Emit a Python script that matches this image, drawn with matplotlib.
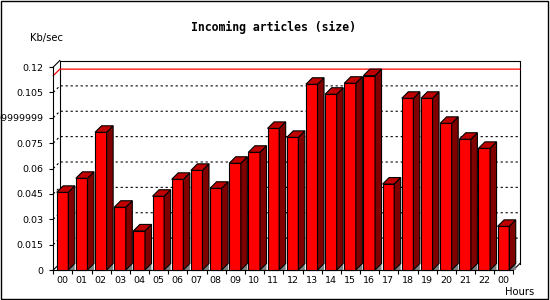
import matplotlib
matplotlib.use('Agg')
import matplotlib.pyplot as plt
from matplotlib.patches import Polygon, Rectangle

# data
hours = ['00', '01', '02', '03', '04', '05', '06', '07', '08', '09', '10', '11',
         '12', '13', '14', '15', '16', '17', '18', '19', '20', '21', '22', '00']
kb_sec = [0.0459, 0.0542, 0.0814, 0.0371, 0.0231, 0.0436, 0.0536, 0.0589,
          0.0483, 0.0631, 0.0696, 0.0837, 0.0784, 0.1098, 0.1039, 0.1104,
          0.1149, 0.0508, 0.1015, 0.1015, 0.0867, 0.0773, 0.0719, 0.0258]
y_ticks = [0, 0.015, 0.03, 0.045, 0.06, 0.075, 0.09, 0.105, 0.12]
y_tick_labels = ['0', '0.015', '0.03', '0.045', '0.06', '0.075',
                 '0.0899999999', '0.105', '0.12']
title = 'Incoming articles (size)'
y_title = 'Kb/sec'
x_title = 'Hours'

W, H = 550, 300
fig = plt.figure(figsize=(W / 100, H / 100), dpi=100)
fig.patch.set_facecolor('white')

# outer frame of the image
fig.add_artist(Rectangle((0.5 / W, 1.5 / H), 547 / W, 298 / H,
                         transform=fig.transFigure, fill=False,
                         ec='black', lw=1.0))

# front plane of the plot area (pixels: x 53..513, y 67..270)
ax_l, ax_r, ax_t, ax_b = 53.3, 513.4, 67, 270
ax = fig.add_axes([ax_l / W, 1 - ax_b / H, (ax_r - ax_l) / W, (ax_b - ax_t) / H])
n = len(kb_sec)
ax.set_xlim(0, n)
ax.set_ylim(0, 0.12)
ax.patch.set_visible(False)
for s in ['top', 'right']:
    ax.spines[s].set_visible(False)
for s in ['left', 'bottom']:
    ax.spines[s].set_linewidth(0.8)

# 3d depth, same number of pixels in x and y
depth_px = 6.5
dx = depth_px / ((ax_r - ax_l) / n)
dy = depth_px / ((ax_b - ax_t) / 0.12)

blk = dict(color='black', lw=0.8, clip_on=False, zorder=1)
# back wall and connecting edges
ax.plot([dx, dx, n + dx, n + dx], [dy, 0.12 + dy, 0.12 + dy, dy], **blk)
ax.plot([0, dx], [0.12, 0.12 + dy], **blk)
ax.plot([0, dx], [0, dy], **blk)
ax.plot([n, n + dx], [0, dy], **blk)

# dashed grid on the back wall
for v in y_ticks[1:-1]:
    ax.plot([0, dx, n + dx], [v, v + dy, v + dy], color='black', lw=0.8,
            ls=(0, (2, 2.5)), clip_on=False, zorder=1)

# max line
m = max(kb_sec)
ax.plot([0, dx, n + dx], [m, m + dy, m + dy], color='#ff0000', lw=0.9,
        clip_on=False, zorder=1.5)

# 3d bars
off, w = 0.177, 0.605
for i, v in enumerate(kb_sec):
    x0 = i + off
    x1 = x0 + w
    ax.add_patch(Polygon([(x1, 0), (x1 + dx, dy), (x1 + dx, 0)], closed=True,
                         fc='#808080', ec='none', zorder=2, clip_on=False))
    ax.add_patch(Rectangle((x0, 0), w, v, fc='#ff0000', ec='black', lw=0.8,
                           zorder=3, clip_on=False))
    ax.add_patch(Polygon([(x1, 0), (x1 + dx, dy), (x1 + dx, v + dy), (x1, v)],
                         closed=True, fc='#800000', ec='black', lw=0.8,
                         zorder=3, clip_on=False))
    ax.add_patch(Polygon([(x0, v), (x0 + dx, v + dy), (x1 + dx, v + dy), (x1, v)],
                         closed=True, fc='#c00000', ec='black', lw=0.8,
                         zorder=3, clip_on=False))

# ticks
ax.set_yticks(y_ticks)
ax.set_yticklabels(y_tick_labels, fontsize=6.8, family='DejaVu Sans')
ax.tick_params(axis='y', direction='out', length=2.6, width=0.8, pad=4.2)
ax.set_xticks(range(n + 1))
ax.set_xticklabels([])
ax.set_xticks([i + off + w / 2 for i in range(n)], minor=True)
ax.set_xticklabels(hours, minor=True, fontsize=6.8, family='DejaVu Sans')
ax.tick_params(axis='x', which='major', direction='out', length=2.6, width=0.8)
ax.tick_params(axis='x', which='minor', length=0, pad=4.5)

# texts
fig.text(273.7 / W, 1 - 27.5 / H, title, ha='center', va='center',
         family='DejaVu Sans Mono', weight='bold', fontsize=8.3)
fig.text(30 / W, 1 - 37.5 / H, y_title, ha='left', va='center',
         family='DejaVu Sans', fontsize=7.2)
fig.text(505 / W, 1 - 292 / H, x_title, ha='left', va='center',
         family='DejaVu Sans', fontsize=7.2)

fig.savefig('out.png', dpi=100)
